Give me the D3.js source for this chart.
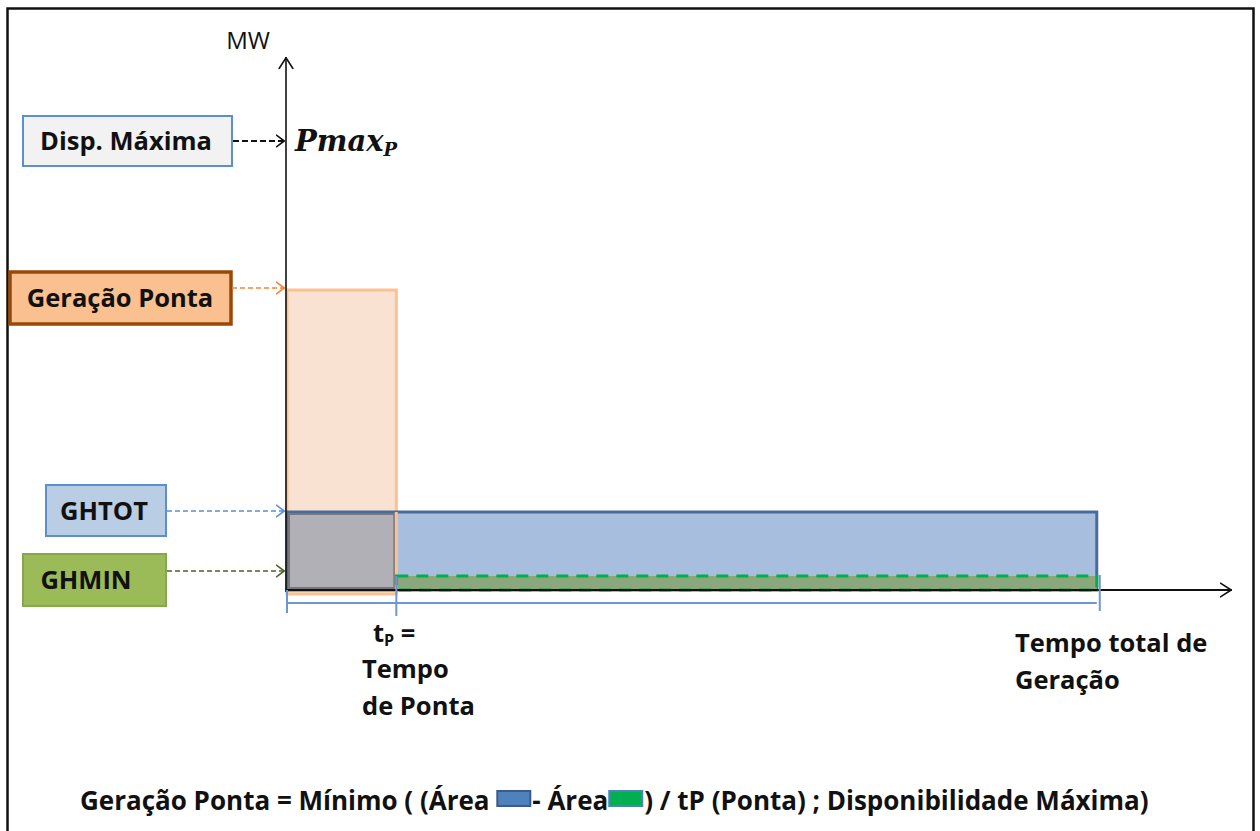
<!DOCTYPE html>
<html><head><meta charset="utf-8">
<script src="https://cdn.jsdelivr.net/npm/d3@7"></script>
<style>body{margin:0;background:#fff} svg{display:block}</style>
</head><body><svg id="c" width="1260" height="831"></svg>
<script>
// ---- data (time in % of total generation time, power in relative MW units) ----
const timeMax = 116.7;          // end of the time axis arrow
const powerMax = 106.6;         // end of the MW axis arrow
const tPonta = 13.5;            // peak time t_P
const tTotal = 100;             // total generation time
const levelNames  = ["Disp. Máxima", "Geração Ponta", "GHTOT", "GHMIN"];
const levelValues = [89.8, 60, 15.6, 2.8];   // Pmax_P, Geração Ponta, GHTOT, GHMIN
const xLabelsTp   = ["Tempo", "de Ponta"];
const xLabelsTot  = ["Tempo total de", "Geração"];
const formulaParts = ["Geração Ponta = Mínimo ( (Área ", "- Área", ") / tP (Ponta) ; Disponibilidade Máxima)"];

const [Pmax, GP, GHTOT, GHMIN] = levelValues;
const svg = d3.select("#c");
const FONT = "'Open Sans', 'Noto Sans', sans-serif";
const FS = 25.5;

const x = d3.scaleLinear().domain([0, timeMax]).range([287, 1232]);
const y = d3.scaleLinear().domain([0, powerMax]).range([590, 57]);

// frame
svg.append("rect").attr("x", 7.5).attr("y", 8.5).attr("width", 1246).attr("height", 900)
  .attr("fill", "none").attr("stroke", "#111").attr("stroke-width", 2.5);

// markers
const defs = svg.append("defs");
function marker(id, color, w, h) {
  defs.append("marker").attr("id", id).attr("viewBox", `0 0 ${w} ${h}`)
    .attr("refX", w).attr("refY", h / 2).attr("markerWidth", w).attr("markerHeight", h)
    .attr("markerUnits", "userSpaceOnUse").attr("orient", "auto")
    .append("path").attr("d", `M0,0.8 L${w - 0.8},${h / 2} L0,${h - 0.8}`)
    .attr("fill", "none").attr("stroke", color).attr("stroke-width", 1.6);
}
marker("axArrow", "#111", 12, 16);
const arrowColors = ["#111", "#f0843c", "#5b8fd5", "#4f6228"];
arrowColors.forEach((c, i) => marker("a" + i, c, 9, 14));

// orange peak rectangle
svg.append("rect")
  .attr("x", x(0)).attr("y", y(GP)).attr("width", x(tPonta) - x(0)).attr("height", y(0) - y(GP) + 4)
  .attr("fill", "#f9e2d2").attr("stroke", "#fbc190").attr("stroke-width", 3);

// blue GHTOT rectangle
svg.append("rect")
  .attr("x", x(0)).attr("y", y(GHTOT)).attr("width", x(tTotal) - x(0)).attr("height", y(0) - y(GHTOT))
  .attr("fill", "#a7bedf").attr("stroke", "#4a6b98").attr("stroke-width", 3);

// overlap region (peak ∩ GHTOT)
svg.append("rect")
  .attr("x", x(0) + 2).attr("y", y(GHTOT) + 2).attr("width", x(tPonta) - x(0) - 4).attr("height", y(0) - y(GHTOT) - 4)
  .attr("fill", "#b1b0b6").attr("stroke", "#77767f").attr("stroke-width", 2);
svg.append("line").attr("x1", x(tPonta)).attr("x2", x(tPonta)).attr("y1", y(GHTOT)).attr("y2", y(0) + 3)
  .attr("stroke", "#fbc190").attr("stroke-width", 3);

// green GHMIN area after peak
svg.append("rect")
  .attr("x", x(tPonta)).attr("y", y(GHMIN)).attr("width", x(tTotal) - x(tPonta)).attr("height", y(0) - y(GHMIN))
  .attr("fill", "#8ba77c").attr("stroke", "#00b050").attr("stroke-width", 3)
  .attr("stroke-dasharray", "12,8");

// axes (no ticks)
svg.append("g").attr("transform", `translate(${x(0) - 1},0)`)
  .call(d3.axisLeft(y).tickValues([]).tickSizeOuter(0))
  .select(".domain").attr("stroke", "#111").attr("stroke-width", 1.6)
  .attr("d", `M0,${y(0) + 2}V${y(powerMax)}`).attr("marker-end", "url(#axArrow)");
svg.append("g").attr("transform", `translate(0,${y(0)})`)
  .call(d3.axisBottom(x).tickValues([]).tickSizeOuter(0))
  .select(".domain").attr("stroke", "#111").attr("stroke-width", 2)
  .attr("d", `M${x(0) - 1},0H${x(timeMax)}`).attr("marker-end", "url(#axArrow)");

// dimension line under the axis
const dim = svg.append("g").attr("stroke", "#6d98cf").attr("stroke-width", 2);
dim.append("line").attr("x1", x(0)).attr("x2", x(tTotal)).attr("y1", y(0) + 13).attr("y2", y(0) + 13);
dim.append("line").attr("x1", x(0)).attr("x2", x(0)).attr("y1", y(0)).attr("y2", y(0) + 23);
dim.append("line").attr("x1", x(tPonta)).attr("x2", x(tPonta)).attr("y1", y(GHMIN)).attr("y2", y(0) + 26);
dim.append("line").attr("x1", x(tTotal) + 3).attr("x2", x(tTotal) + 3).attr("y1", y(GHMIN) - 1).attr("y2", y(0) + 21);

// MW label
svg.append("text").attr("x", 248).attr("y", 49).attr("text-anchor", "middle")
  .attr("font-family", FONT).attr("font-size", 24).attr("fill", "#111").text("MW");

// Pmax_P label
const pm = svg.append("text").attr("x", 295).attr("y", y(Pmax) + 10)
  .attr("font-family", "'DejaVu Serif', 'Liberation Serif', serif").attr("font-weight", "bold")
  .attr("font-style", "italic").attr("font-size", 29).attr("fill", "#111");
pm.append("tspan").text("Pmax");
pm.append("tspan").attr("font-size", 18).attr("dy", 5).text("P");

// level boxes
const boxes = [
  {x: 23, y: 116, w: 209, h: 50, fill: "#f2f2f2", stroke: "#5b8fd0", sw: 2, tx: 126, ay: 0},
  {x: 10, y: 272, w: 221, h: 52, fill: "#fac090", stroke: "#984807", sw: 3.5, tx: 120, ay: -2},
  {x: 46, y: 485, w: 120, h: 51, fill: "#b9cde5", stroke: "#5b8fd0", sw: 2, tx: 104, ay: -1},
  {x: 23, y: 554, w: 143, h: 52, fill: "#9bbb59", stroke: "#86a74c", sw: 2, tx: 86, ay: -5}
];
levelNames.forEach((name, i) => {
  const b = boxes[i];
  svg.append("rect").attr("x", b.x).attr("y", b.y).attr("width", b.w).attr("height", b.h)
    .attr("fill", b.fill).attr("stroke", b.stroke).attr("stroke-width", b.sw);
  svg.append("text").attr("x", b.tx).attr("y", b.y + b.h / 2 + 9).attr("text-anchor", "middle")
    .attr("font-family", FONT).attr("font-weight", "bold").attr("font-size", FS).attr("fill", "#111")
    .text(name);
  const ay = y(levelValues[i]) + b.ay;
  svg.append("line").attr("x1", b.x + b.w + 1).attr("x2", x(0) - 2).attr("y1", ay).attr("y2", ay)
    .attr("stroke", arrowColors[i]).attr("stroke-width", i === 0 ? 1.8 : 1.5)
    .attr("stroke-dasharray", i === 0 ? "6,3" : "5,3").attr("marker-end", `url(#a${i})`);
});

// x-axis labels
const tl = svg.append("text").attr("font-family", FONT).attr("font-weight", "bold")
  .attr("font-size", FS).attr("fill", "#111");
tl.append("tspan").attr("x", 373).attr("y", 642).text("t");
tl.append("tspan").attr("font-size", 16).attr("dy", 4).text("P");
tl.append("tspan").attr("dy", -4).text(" =");
xLabelsTp.forEach((s, i) => svg.append("text").attr("x", 362).attr("y", 678 + i * 37)
  .attr("font-family", FONT).attr("font-weight", "bold").attr("font-size", FS).attr("fill", "#111").text(s));
xLabelsTot.forEach((s, i) => svg.append("text").attr("x", 1015).attr("y", 652 + i * 37)
  .attr("font-family", FONT).attr("font-weight", "bold").attr("font-size", FS).attr("fill", "#111").text(s));

// formula
const fy = 810;
let cx = 80;
const swatches = [{fill: "#4f81bd", stroke: "#385d8a"}, {fill: "#00b050", stroke: "#4f81bd"}];
formulaParts.forEach((s, i) => {
  const t = svg.append("text").attr("x", cx).attr("y", fy)
    .attr("font-family", FONT).attr("font-weight", "bold").attr("font-size", 26).attr("fill", "#111")
    .attr("xml:space", "preserve").style("white-space", "pre").text(s);
  cx += t.node().getComputedTextLength();
  if (i < swatches.length) {
    svg.append("rect").attr("x", cx + 1).attr("y", fy - 19).attr("width", 33).attr("height", 15)
      .attr("fill", swatches[i].fill).attr("stroke", swatches[i].stroke).attr("stroke-width", 2);
    cx += 36;
  }
});
</script></body></html>
